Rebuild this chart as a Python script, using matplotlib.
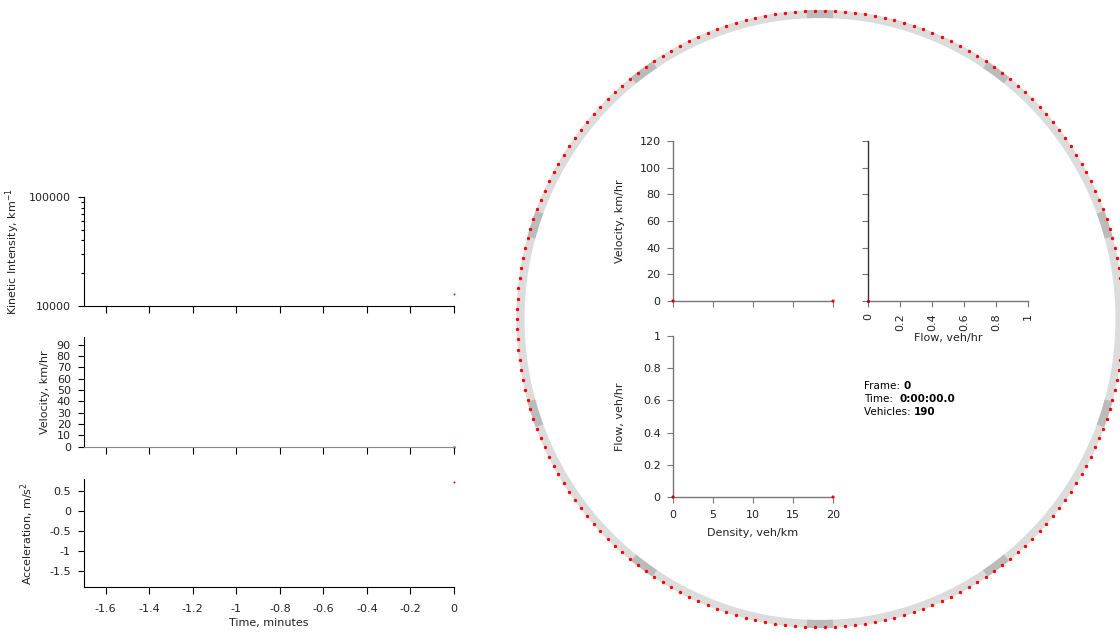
import numpy as np
import matplotlib
matplotlib.use('Agg')
import matplotlib.pyplot as plt
from matplotlib.ticker import FuncFormatter, NullFormatter, LogLocator

plt.rcParams['font.family'] = 'DejaVu Sans'
plt.rcParams['font.size'] = 8
plt.rcParams['axes.unicode_minus'] = False

# time series (one frame so far)
time_min = [0.0]
kinetic_intensity = [13000]
velocity_kmh = [0.0]
accel_ms2 = [0.72]

# fundamental diagram points
density_veh_km = [20, 0]
fd_velocity = [0, 0]
fd_flow = [0, 0]
flow_pts = [0]
flow_vel = [0]

time_ticks = [-1.6, -1.4, -1.2, -1.0, -0.8, -0.6, -0.4, -0.2, 0]
vel_ticks = [0, 10, 20, 30, 40, 50, 60, 70, 80, 90]
acc_ticks = [-1.5, -1, -0.5, 0, 0.5]
dens_ticks = [0, 5, 10, 15, 20]
fdvel_ticks = [0, 20, 40, 60, 80, 100, 120]
flow_ticks = [0, 0.2, 0.4, 0.6, 0.8, 1]
flowy_ticks = [0, 0.2, 0.4, 0.6, 0.8, 1]

n_vehicles = 190
frame_no = 0
time_str = '0:00:00.0'
n_segments = 10

txt = '#222222'
gfmt = FuncFormatter(lambda v, p: '%g' % v)

fig = plt.figure(figsize=(11.2, 6.35), dpi=100)

# ---- ring road in pixel coordinates
ring = fig.add_axes([0, 0, 1, 1], zorder=0)
ring.set_xlim(0, 1120)
ring.set_ylim(635, 0)
ring.axis('off')
cx, cy = 820, 319
rx, ry = 299.5, 305
t = np.linspace(0, 2 * np.pi, 720)
ring.plot(cx + rx * np.cos(t), cy - ry * np.sin(t), color='#dcdcdc', lw=5.8, solid_capstyle='butt', zorder=1)
for k in range(n_segments):
    a0 = np.pi / 2 + k * 2 * np.pi / n_segments
    ts = np.linspace(a0 - np.radians(2.5), a0 + np.radians(2.5), 20)
    ring.plot(cx + rx * np.cos(ts), cy - ry * np.sin(ts), color='#bbbbbb', lw=5.8, solid_capstyle='butt', zorder=2)
ang = np.pi / 2 + (np.arange(n_vehicles) + 0.5) * 2 * np.pi / n_vehicles
ring.scatter(cx + (rx + 3.5) * np.cos(ang), cy - (ry + 3) * np.sin(ang), s=6, color='#ff0000', lw=0, zorder=3)


def style(ax, color='black', spine_lw=0.8):
    for s in ['top', 'right']:
        ax.spines[s].set_visible(False)
    for s in ['left', 'bottom']:
        ax.spines[s].set_color(color)
        ax.spines[s].set_linewidth(spine_lw)
    ax.tick_params(colors=color, labelcolor=txt, labelsize=8, length=4, width=0.8, pad=5.5)
    ax.set_facecolor('none')


# ---- left time series panels
W = 370 / 1120
ax1 = fig.add_axes([84 / 1120, 1 - 306 / 635, W, 109 / 635])
ax2 = fig.add_axes([84 / 1120, 1 - 446.7 / 635, W, 109.4 / 635])
ax3 = fig.add_axes([84 / 1120, 1 - 587 / 635, W, 108 / 635])

for ax in (ax1, ax2, ax3):
    style(ax)
    ax.set_xlim(-1.7, 0)
    ax.set_xticks(time_ticks)
    ax.tick_params(axis='x', length=5)
ax2.spines['bottom'].set_color('#888888')

ax1.set_yscale('log')
ax1.set_ylim(10000, 100000)
ax1.yaxis.set_major_locator(LogLocator(base=10, numticks=5))
ax1.yaxis.set_major_formatter(FuncFormatter(lambda v, p: '%d' % v))
ax1.yaxis.set_minor_locator(LogLocator(base=10, subs=np.arange(2, 10), numticks=10))
ax1.yaxis.set_minor_formatter(NullFormatter())
ax1.tick_params(axis='y', which='minor', length=2.5, width=0.8)
ax1.tick_params(axis='x', labelbottom=False)
ax1.scatter(time_min, kinetic_intensity, s=2, color='#ff0000', lw=0, clip_on=False)
ax1.set_ylabel('Kinetic Intensity, km$^{-1}$', color=txt)
ax1.yaxis.set_label_coords(-0.168, 0.5)

ax2.set_ylim(0, 96.5)
ax2.set_yticks(vel_ticks)
ax2.tick_params(axis='x', labelbottom=False)
ax2.scatter(time_min, velocity_kmh, s=3, color='#ff0000', lw=0, clip_on=False)
ax2.set_ylabel('Velocity, km/hr', color=txt)
ax2.yaxis.set_label_coords(-0.092, 0.5)

ax3.set_ylim(-1.9, 0.79)
ax3.set_yticks(acc_ticks)
ax3.yaxis.set_major_formatter(gfmt)
ax3.xaxis.set_major_formatter(gfmt)
ax3.tick_params(axis='x', pad=7)
ax3.scatter(time_min, accel_ms2, s=2, color='#ff0000', lw=0, clip_on=False)
ax3.set_ylabel('Acceleration, m/s$^2$', color=txt)
ax3.yaxis.set_label_coords(-0.13, 0.5)
ax3.set_xlabel('Time, minutes', color=txt)
ax3.xaxis.set_label_coords(0.5, -0.29)

# ---- fundamental diagram panels inside the ring
PW = 160 / 1120
gray = '#777777'
axv = fig.add_axes([673 / 1120, 1 - 301 / 635, PW, 160 / 635])
axf = fig.add_axes([868 / 1120, 1 - 301 / 635, PW, 160 / 635])
axq = fig.add_axes([673 / 1120, 1 - 497 / 635, PW, 161 / 635])
for ax in (axv, axf, axq):
    style(ax, color=gray, spine_lw=1.0)
    ax.tick_params(pad=5)

axv.set_xlim(0, 20)
axv.set_ylim(0, 120)
axv.set_xticks(dens_ticks)
axv.set_yticks(fdvel_ticks)
axv.tick_params(axis='x', labelbottom=False)
axv.scatter(density_veh_km, fd_velocity, s=5, color=['#ff0000', '#cc0000'], lw=0, clip_on=False, zorder=3)
axv.set_ylabel('Velocity, km/hr', color=txt)
axv.yaxis.set_label_coords(-0.3, 0.5)

axf.set_xlim(0, 1)
axf.set_ylim(0, 120)
axf.set_xticks(flow_ticks)
axf.set_yticks(fdvel_ticks)
axf.xaxis.set_major_formatter(gfmt)
axf.tick_params(axis='y', labelleft=False)
axf.tick_params(axis='x', labelrotation=90)
axf.spines['left'].set_color('#333333')
axf.scatter(flow_pts, flow_vel, s=5, color='#aa0000', lw=0, clip_on=False, zorder=3)
axf.set_xlabel('Flow, veh/hr', color=txt)
axf.xaxis.set_label_coords(0.5, -0.2)

axq.set_xlim(0, 20)
axq.set_ylim(0, 1)
axq.set_xticks(dens_ticks)
axq.set_yticks(flowy_ticks)
axq.yaxis.set_major_formatter(gfmt)
axq.scatter(density_veh_km, fd_flow, s=5, color=['#ff0000', '#cc0000'], lw=0, clip_on=False, zorder=3)
axq.set_ylabel('Flow, veh/hr', color=txt)
axq.yaxis.set_label_coords(-0.3, 0.5)
axq.set_xlabel('Density, veh/km', color=txt)
axq.xaxis.set_label_coords(0.5, -0.19)

# ---- status text: plain label followed by bold value
labels = ['Frame: ', 'Time:  ', 'Vehicles: ']
values = [str(frame_no), time_str, str(n_vehicles)]
fig.canvas.draw()
rend = fig.canvas.get_renderer()
inv = ring.transData.inverted()
for i, (lab, val) in enumerate(zip(labels, values)):
    y = 386 + i * 13
    tl = ring.text(864, y, lab, fontsize=7.5, color='black', va='center', ha='left')
    x1 = inv.transform((tl.get_window_extent(rend).x1, 0))[0]
    ring.text(x1, y, val, fontsize=7.5, color='black', va='center', ha='left', fontweight='bold')

fig.savefig('out.png', dpi=100)
